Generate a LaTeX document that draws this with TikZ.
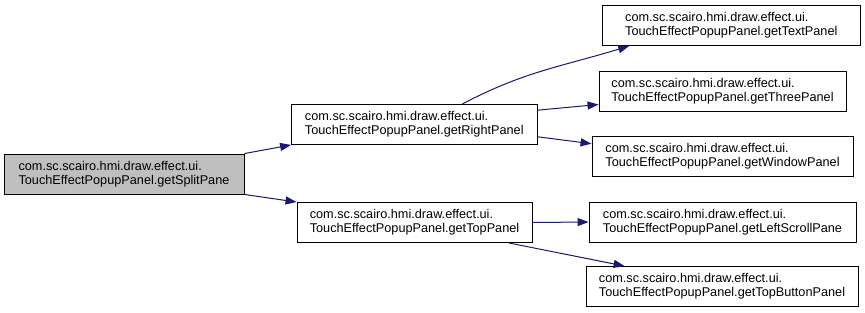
\documentclass[tikz,border=0pt]{standalone}
\usepackage{fontspec}
\setmainfont{Liberation Sans}
\usetikzlibrary{arrows.meta,calc}

\definecolor{edgeblue}{HTML}{191970}
\definecolor{rootgray}{HTML}{BFBFBF}

\tikzset{
  fn/.style={draw=black, line width=0.9pt, fill=white, align=left,
    minimum height=40pt, inner xsep=6pt, inner ysep=2pt,
    font=\fontsize{12.7}{13.6}\selectfont},
  rootfn/.style={fn, fill=rootgray},
  call/.style={draw=edgeblue, line width=1pt,
    -{Triangle[length=11pt,width=8pt]}, edgeblue},
}

\begin{document}
\begin{tikzpicture}[x=1pt, y=-1pt]
  \useasboundingbox (0,0) rectangle (865,313);

  % caller
  \node[rootfn, minimum width=240pt] (root) at (124,174)
    {com.sc.scairo.hmi.draw.effect.ui.\\TouchEffectPopupPanel.getSplitPane};

  % direct callees
  \node[fn, minimum width=245.5pt] (rp) at (414.3,124.5)
    {com.sc.scairo.hmi.draw.effect.ui.\\TouchEffectPopupPanel.getRightPanel};
  \node[fn, minimum width=235pt] (tp) at (414.5,222.5)
    {com.sc.scairo.hmi.draw.effect.ui.\\TouchEffectPopupPanel.getTopPanel};

  % second-level callees
  \node[fn, minimum width=257.5pt] (text) at (731.3,25.5)
    {com.sc.scairo.hmi.draw.effect.ui.\\TouchEffectPopupPanel.getTextPanel};
  \node[fn, minimum width=247pt] (three) at (722.5,91)
    {com.sc.scairo.hmi.draw.effect.ui.\\TouchEffectPopupPanel.getThreePanel};
  \node[fn, minimum width=261pt] (window) at (722.5,156)
    {com.sc.scairo.hmi.draw.effect.ui.\\TouchEffectPopupPanel.getWindowPanel};
  \node[fn, minimum width=267pt] (left) at (722.5,222)
    {com.sc.scairo.hmi.draw.effect.ui.\\TouchEffectPopupPanel.getLeftScrollPane};
  \node[fn, minimum width=272pt] (button) at (722,286.5)
    {com.sc.scairo.hmi.draw.effect.ui.\\TouchEffectPopupPanel.getTopButtonPanel};

  % call edges
  \draw[call] (root.north east) -- (rp.south west);
  \draw[call] (root.south east) -- (tp.north west);

  \draw[call] ($(rp.north west)!0.695!(rp.north east)$)
    to[out=28, in=197] ($(text.south west)!0.105!(text.south east)$);
  \draw[call] ($(rp.north east)!0.15!(rp.south east)$)
    -- ($(three.north west)!0.83!(three.south west)$);
  \draw[call] ($(rp.north east)!0.8!(rp.south east)$)
    -- ($(window.north west)!0.2!(window.south west)$);

  \draw[call] (tp.east) -- (left.west);
  \draw[call] ($(tp.south west)!0.9!(tp.south east)$)
    -- ($(button.north west)!0.143!(button.north east)$);
\end{tikzpicture}
\end{document}
